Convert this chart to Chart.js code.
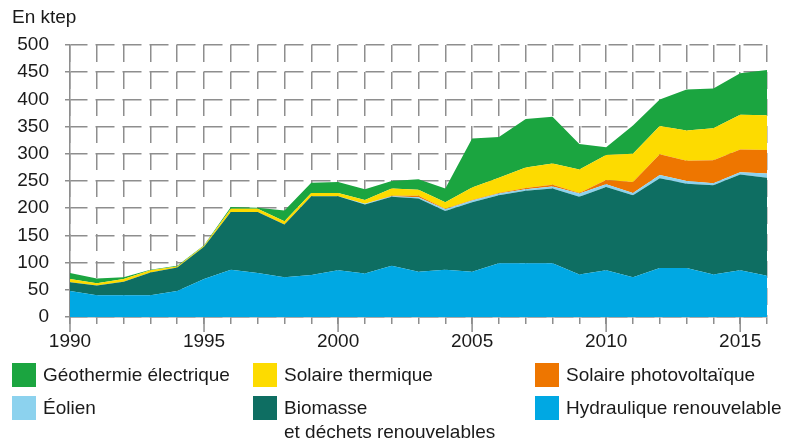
<!DOCTYPE html>
<html lang="fr">
<head>
<meta charset="utf-8">
<title>Énergies renouvelables</title>
<script src="https://cdn.jsdelivr.net/npm/chart.js@4/dist/chart.umd.min.js"></script>
<style>
  body { margin: 0; background: #fff; font-family: "Liberation Sans", Arial, sans-serif; color: #1a1a1a; }
  #wrap { position: relative; width: 785px; height: 443px; }
  #unit { position: absolute; left: 12px; top: 6px; font-size: 19px; }
  .item { position: absolute; font-size: 19px; line-height: 24px; }
  .item span { position: absolute; left: 0; top: 0; width: 24px; height: 24px; }
  .item div { margin-left: 31px; white-space: nowrap; }
</style>
</head>
<body>
<div id="wrap">
  <canvas id="myChart"></canvas>
  <div id="unit">En ktep</div>
  <div id="legend"></div>
</div>
<script>
// ------------------------------ data ------------------------------
const years = [1990, 1991, 1992, 1993, 1994, 1995, 1996, 1997, 1998, 1999, 2000, 2001, 2002,
               2003, 2004, 2005, 2006, 2007, 2008, 2009, 2010, 2011, 2012, 2013, 2014, 2015, 2016];
const hydraulique    = [48, 40, 40, 40, 48, 70, 87, 81, 73, 77, 86, 80, 94, 83, 87, 83, 99, 99, 99, 78, 86, 73, 90, 90, 78, 86, 76];
const biomasse       = [16, 18, 25, 42, 43, 59, 106, 112, 97, 145, 136, 127, 127, 135, 108, 128, 125, 133, 137, 143, 153, 151, 165, 155, 164, 176, 180];
const eolien         = [0, 0, 0, 0, 0, 0, 0, 0, 0, 0, 0, 1, 1, 2, 3, 3, 3, 3, 4, 6, 5, 4, 6, 5, 4, 4, 8];
const photovoltaique = [0, 0, 0, 0, 0, 0, 0, 0, 0, 0, 0, 0, 1, 3, 1, 1, 1, 2, 3, 1, 8, 20, 38, 37, 42, 42, 43];
const thermique      = [6, 4, 5, 4, 2, 2, 6, 6, 6, 6, 6, 7, 13, 11, 12, 23, 28, 38, 39, 43, 46, 52, 52, 56, 59, 64, 64];
const geothermie     = [11, 9, 3, 1, 1, 1, 3, 2, 20, 19, 20, 20, 14, 19, 25, 90, 75, 89, 86, 47, 14, 52, 49, 75, 73, 76, 83];
const yMax = 500, yStep = 50;

const gridColor = '#8e8e8e';
const font = { family: '"Liberation Sans", Arial, sans-serif', size: 19 };

// stacking order: bottom first
const series = [
  { label: 'Hydraulique renouvelable', data: hydraulique, color: '#00a8e3' },
  { label: 'Biomasse\net déchets renouvelables', data: biomasse, color: '#0e6e62' },
  { label: 'Éolien', data: eolien, color: '#8cd2ee' },
  { label: 'Solaire photovoltaïque', data: photovoltaique, color: '#ee7600' },
  { label: 'Solaire thermique', data: thermique, color: '#fddb00' },
  { label: 'Géothermie électrique', data: geothermie, color: '#1ba540' }
];

// legend layout (reading order of the reference)
const legendOrder = [5, 4, 3, 2, 1, 0];
const legendCols = [12, 253, 535];
const legendRows = [363, 396];

const legend = document.getElementById('legend');
legendOrder.forEach((idx, n) => {
  const s = series[idx];
  const el = document.createElement('div');
  el.className = 'item';
  el.style.left = legendCols[n % 3] + 'px';
  el.style.top = legendRows[Math.floor(n / 3)] + 'px';
  el.innerHTML = '<span style="background:' + s.color + '"></span><div>' + s.label.replace('\n', '<br>') + '</div>';
  legend.appendChild(el);
});

// longer ticks under the 5-year labels
const longTicks = {
  id: 'longTicks',
  afterDraw(chart) {
    const xs = chart.scales.x, ctx = chart.ctx, bottom = chart.chartArea.bottom;
    ctx.save();
    ctx.strokeStyle = gridColor;
    ctx.lineWidth = 1.5;
    years.forEach((yr, i) => {
      if (yr % 5 !== 0) return;
      const px = xs.getPixelForTick(i);
      ctx.beginPath();
      ctx.moveTo(px, bottom);
      ctx.lineTo(px, bottom + 15);
      ctx.stroke();
    });
    ctx.restore();
  }
};

const ctx = document.getElementById('myChart').getContext('2d');
const chart = new Chart(ctx, {
  type: 'line',
  data: {
    labels: years,
    datasets: series.map((s, i) => ({
      label: s.label,
      data: s.data,
      backgroundColor: s.color,
      borderColor: s.color,
      borderWidth: 0,
      pointRadius: 0,
      tension: 0,
      fill: i === 0 ? 'origin' : '-1'
    }))
  },
  options: {
    responsive: true,
    maintainAspectRatio: false,
    animation: false,
    layout: { padding: { top: 45, right: 18, bottom: 86, left: 0 } },
    plugins: { legend: { display: false }, tooltip: { enabled: false } },
    scales: {
      x: {
        afterFit: s => { s.height = 40; },
        grid: { color: gridColor, lineWidth: 1.5, tickLength: 7, tickColor: gridColor },
        border: { display: true, color: gridColor, width: 1.5, dash: [17, 10] },
        ticks: {
          autoSkip: false, maxRotation: 0, padding: 6, color: '#1a1a1a', font: font,
          callback: function (v) { const y = this.getLabelForValue(v); return y % 5 === 0 ? y : ''; }
        }
      },
      y: {
        stacked: true,
        min: 0, max: yMax,
        afterFit: s => { s.width = 70; },
        grid: { color: gridColor, lineWidth: 1.5, tickLength: 5, tickColor: gridColor },
        border: { display: true, color: gridColor, width: 1.5, dash: [19, 8], dashOffset: 2 },
        ticks: { stepSize: yStep, padding: 16, color: '#1a1a1a', font: font }
      }
    }
  },
  plugins: [longTicks]
});
</script>
</body>
</html>
